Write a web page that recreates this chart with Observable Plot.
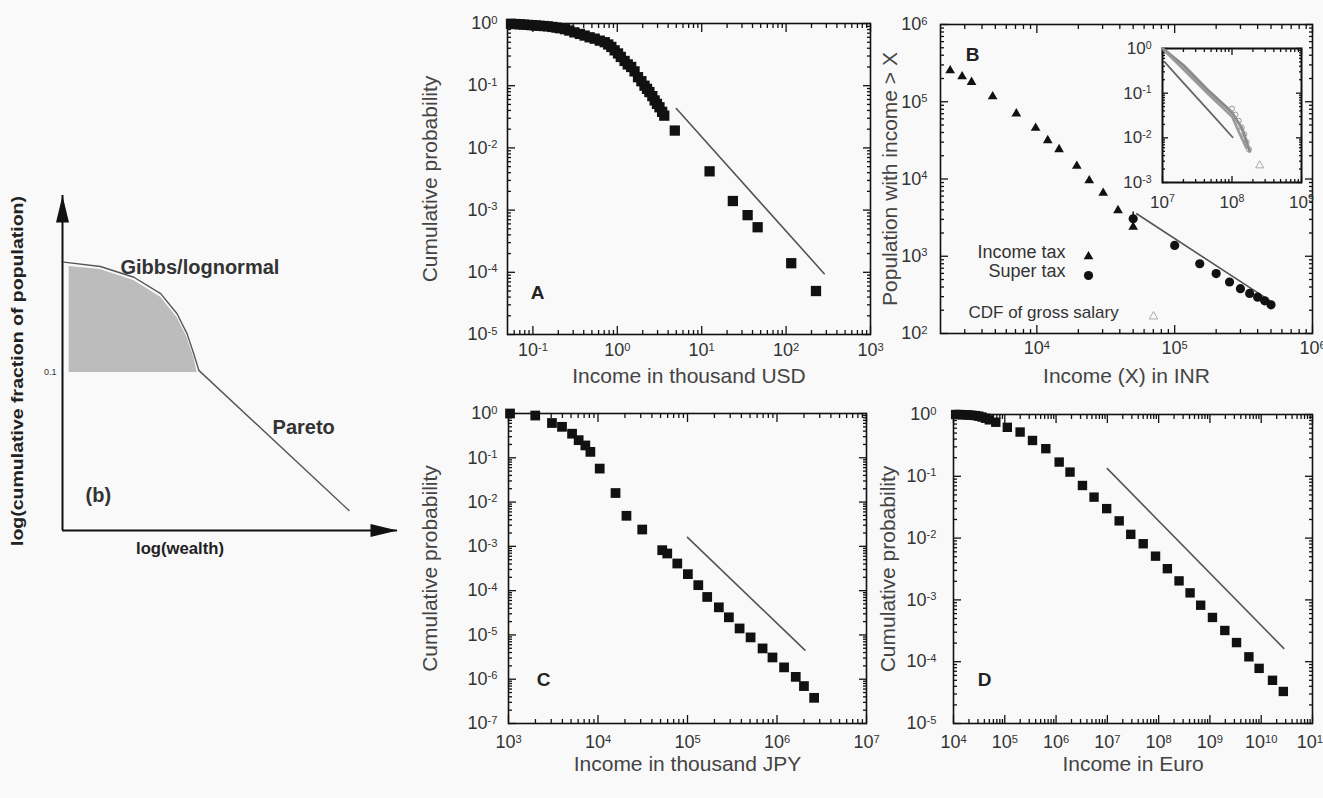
<!DOCTYPE html>
<html><head><meta charset="utf-8">
<script src="https://cdn.jsdelivr.net/npm/d3@7"></script>
<script src="https://cdn.jsdelivr.net/npm/@observablehq/plot@0.6"></script>
<style>
body{margin:0;background:#f9f9f9;}
#page{position:relative;width:1323px;height:798px;overflow:hidden;background:#f9f9f9;}
#page svg{position:absolute;overflow:visible;max-width:none;}
</style></head><body><div id="page"></div>
<script>
// ---------- Panel A : USA (thousand USD) ----------
const usdX = [0.055,0.062,0.07,0.078,0.087,0.097,0.108,0.12,0.135,0.15,0.17,0.19,0.21,0.24,0.27,
  0.31,0.36,0.41,0.47,0.54,0.62,0.71,0.78,0.85,0.93,1.02,1.1,1.22,1.33,1.46,1.6,1.76,1.93,2.1,2.25,2.4,2.6,2.77,2.95,3.16,3.4,3.6,
  4.8,12.4,23.4,35,46,115,226];
const usdY = [0.99,0.98,0.97,0.96,0.95,0.94,0.93,0.92,0.91,0.90,0.88,0.86,0.84,0.81,0.77,
  0.72,0.68,0.64,0.60,0.57,0.53,0.50,0.46,0.42,0.37,0.33,0.29,0.25,0.22,0.20,0.17,0.137,0.118,0.10,0.089,0.079,0.068,0.058,0.051,0.045,0.038,0.033,
  0.019,0.0042,0.0014,0.00083,0.00053,0.00014,0.00005];
const usdFitX = [5, 283];
const usdFitY = [0.043, 0.000095];

// ---------- Panel B : India (INR) ----------
const incomeTaxX = [2350,2870,3360,4780,7100,9800,12000,14500,19500,24000,30300,38800,50000];
const incomeTaxY = [254000,212000,179000,117000,70000,45700,31600,24200,14700,9550,6580,3930,2390];
const superTaxX = [50000,100000,152000,200000,250000,300000,350000,400000,450000,500000];
const superTaxY = [3060,1380,800,596,464,380,330,295,265,235];
const superErrX = [50000];
const superErrLo = [2550];
const superErrHi = [3750];
const inrFitX = [53000, 503000];
const inrFitY = [3550, 258];
// inset: CDF of gross salary
const salaryLowX = [1.07e7,2e7,4e7,6e7,1.02e8];
const salaryLowY = [0.5,0.17,0.052,0.026,0.0103];
const salaryMidX = [1.0e7,2e7,4.4e7,1e8,1.4e8,1.8e8];
const salaryMidY = [1.0,0.42,0.12,0.037,0.016,0.005];
const salaryUpX = [1.1e7,2e7,4.4e7,1e8,1.3e8,1.6e8];
const salaryUpY = [0.85,0.34,0.10,0.03,0.012,0.006];
const salaryPtsX = [1.0e8,1.12e8,1.25e8,1.38e8,1.5e8,1.62e8,1.75e8];
const salaryPtsY = [0.045,0.033,0.024,0.017,0.012,0.008,0.0055];
const salaryLoneX = [2.5e8];
const salaryLoneY = [0.0024];

// ---------- Panel C : Japan (thousand JPY) ----------
const jpyX = [1040,1990,3060,3960,5130,6080,7220,8220,10450,15700,20800,31200,52200,59400,76900,101000,132000,166000,224000,290000,382000,507000,690000,890000,1.2e6,1.62e6,2.0e6,2.6e6];
const jpyY = [1.0,0.9,0.61,0.50,0.35,0.25,0.19,0.136,0.057,0.016,0.0049,0.0024,0.00082,0.00069,0.00041,0.000236,0.000133,7.2e-5,4.2e-5,2.5e-5,1.4e-5,8.8e-6,4.96e-6,3.1e-6,1.85e-6,1.13e-6,7e-7,3.8e-7];
const jpyFitX = [1.0e5, 2.05e6];
const jpyFitY = [1.6e-3, 4.55e-6];

// ---------- Panel D : Euro ----------
const eurX = [11000,13000,15000,17500,20000,23000,27000,31000,36000,42000,50000,66800,112000,199000,347000,631000,1.15e6,1.87e6,3.27e6,5.5e6,9.7e6,1.7e7,2.86e7,5.0e7,8.7e7,1.48e8,2.5e8,4.1e8,6.6e8,1.12e9,1.95e9,3.3e9,5.75e9,9.1e9,1.66e10,2.7e10];
const eurY = [1.0,1.0,0.99,0.99,0.98,0.97,0.96,0.94,0.91,0.87,0.82,0.75,0.62,0.52,0.38,0.28,0.17,0.117,0.071,0.046,0.030,0.019,0.0115,0.0081,0.0051,0.0032,0.00203,0.0013,0.00082,0.00052,0.00032,0.000204,0.00012,7.8e-5,5.0e-5,3.3e-5];
const eurFitX = [1.0e7, 2.75e10];
const eurFitY = [0.133, 1.64e-4];

// ---------- tick values ----------
const prob5Ticks = [1e-5,1e-4,1e-3,1e-2,1e-1,1];
const prob7Ticks = [1e-7,1e-6,1e-5,1e-4,1e-3,1e-2,1e-1,1];
const usdTicks = [0.1,1,10,100,1000];
const inrTicks = [1e4,1e5,1e6];
const popTicks = [1e2,1e3,1e4,1e5,1e6];
const jpyTicks = [1e3,1e4,1e5,1e6,1e7];
const eurTicks = [1e4,1e5,1e6,1e7,1e8,1e9,1e10,1e11];
const insetXTicks = [1e7,1e8,1e9];
const insetYTicks = [1e-3,1e-2,1e-1,1];

// ---------- schematic (b) ----------
const schemDomain = [0, 10];
const curveU = [0.04,1.13,2.13,2.93,3.42,3.72,3.92,4.07];
const curveV = [8.01,7.88,7.56,7.07,6.47,5.87,5.27,4.78];
const paretoU = [4.07,8.55];
const paretoV = [4.78,0.60];
const shadeU = [0.2,1.13,2.13,2.93,3.42,3.72,3.92,4.02];
const shadeTop = [7.88,7.79,7.46,6.96,6.36,5.76,5.16,4.72];
const shadeLevel = 4.72;
const schemText = ["Gibbs/lognormal","Pareto","(b)"];
const schemTextU = [1.73,6.27,0.69];
const schemTextV = [7.85,3.07,1.04];

// ================= drawing =================
const page = document.getElementById("page");
const FONT = "'Liberation Sans', Arial, Helvetica, sans-serif";
const T = (xs, ys) => xs.map((x, i) => ({x, y: ys[i]}));
const fmtPow = v => "10^" + Math.round(Math.log10(v));
function minors(dom) {
  const lo = Math.min(...dom), hi = Math.max(...dom), out = [];
  for (let e = Math.floor(Math.log10(lo)); e <= Math.ceil(Math.log10(hi)); e++)
    for (let m = 2; m <= 9; m++) { const v = m * Math.pow(10, e); if (v > lo * 1.0001 && v < hi * 0.9999) out.push(v); }
  return out;
}
function supify(svg) {
  svg.querySelectorAll("text").forEach(t => {
    const m = /^10\^(-?\d+)$/.exec(t.textContent);
    if (!m) return;
    while (t.firstChild) t.removeChild(t.firstChild);
    t.appendChild(document.createTextNode("10"));
    const ts = document.createElementNS("http://www.w3.org/2000/svg", "tspan");
    ts.setAttribute("dy", "-0.5em");
    ts.setAttribute("font-size", "0.62em");
    ts.textContent = m[1];
    t.appendChild(ts);
  });
}
function place(svg, left, top) {
  svg.style.left = left + "px"; svg.style.top = top + "px";
  page.appendChild(svg);
}
function logFrameMarks(xDom, yDom, xMaj, yMaj, o) {
  const tickStroke = {stroke: "#111", fill: "none", strokeWidth: o.tw || 1.3};
  const mx = minors(xDom), my = minors(yDom);
  return [
    Plot.axisX({anchor: "bottom", ticks: xMaj, tickSize: 0, tickPadding: o.xPad, tickFormat: fmtPow, label: null, fill: "#333", fontSize: o.fs}),
    Plot.axisY({anchor: "left", ticks: yMaj, tickSize: 0, tickPadding: o.yPad, tickFormat: fmtPow, label: null, fill: "#333", fontSize: o.fs}),
    ...["bottom", "top"].flatMap(a => [
      Plot.axisX({anchor: a, ticks: xMaj, tickSize: -(o.major || 8), label: null, ...tickStroke}),
      Plot.axisX({anchor: a, ticks: mx, tickSize: -(o.minor || 4), label: null, ...tickStroke})
    ]),
    ...["left", "right"].flatMap(a => [
      Plot.axisY({anchor: a, ticks: yMaj, tickSize: -(o.major || 8), label: null, ...tickStroke}),
      Plot.axisY({anchor: a, ticks: my, tickSize: -(o.minor || 4), label: null, ...tickStroke})
    ]),
    Plot.frame({stroke: "#111", strokeWidth: o.fw || 1.6})
  ];
}
function titles(xt, yt, xdy, ydx) {
  return [
    Plot.text([xt], {frameAnchor: "bottom", dy: xdy, textAnchor: "middle", fontSize: 21, fill: "#444"}),
    Plot.text([yt], {frameAnchor: "left", dx: ydx, rotate: -90, textAnchor: "middle", fontSize: 21, fill: "#444"})
  ];
}
function letter(l, anchor, dx, dy) {
  return Plot.text([l], {frameAnchor: anchor, dx, dy, textAnchor: "middle", fontSize: 19, fontWeight: "bold", fill: "#222"});
}
function logPlot(cfg) {
  const svg = Plot.plot({
    width: cfg.width, height: cfg.height,
    marginLeft: cfg.m[0], marginRight: cfg.m[1], marginTop: cfg.m[2], marginBottom: cfg.m[3],
    x: {type: "log", domain: cfg.xDom, label: null},
    y: {type: "log", domain: cfg.yDom, label: null},
    style: {background: "transparent", fontFamily: FONT, fontSize: "18px", color: "#333", overflow: "visible"},
    marks: [...logFrameMarks(cfg.xDom, cfg.yDom, cfg.xMaj, cfg.yMaj, cfg.o), ...cfg.marks]
  });
  supify(svg);
  place(svg, cfg.left, cfg.top);
  return svg;
}
const lineStyle = {x: "x", y: "y", stroke: "#555", strokeWidth: 1.6};

// ----- schematic -----
{
  const shade = shadeU.map((u, i) => ({u, top: shadeTop[i]}));
  const curve = T(curveU, curveV), pareto = T(paretoU, paretoV);
  const arrowHead = {draw(ctx) { ctx.moveTo(0, 0); ctx.lineTo(6.5, 27); ctx.lineTo(-6.5, 27); ctx.closePath(); }};
  const labels = schemText.map((t, i) => ({t, u: schemTextU[i], v: schemTextV[i]}));
  const svg = Plot.plot({
    width: 420, height: 420, marginLeft: 62, marginRight: 23, marginTop: 25, marginBottom: 60,
    x: {domain: schemDomain, axis: null}, y: {domain: schemDomain, axis: null},
    style: {background: "transparent", fontFamily: FONT, color: "#333", overflow: "visible"},
    marks: [
      Plot.areaY(shade, {x: "u", y1: () => shadeLevel, y2: "top", fill: "#bcbcbc"}),
      Plot.line(curve, {x: "x", y: "y", stroke: "#555", strokeWidth: 1.4}),
      Plot.line(pareto, {x: "x", y: "y", stroke: "#555", strokeWidth: 1.4}),
      Plot.ruleX([schemDomain[0]], {y1: schemDomain[0], y2: schemDomain[1], stroke: "#111", strokeWidth: 2}),
      Plot.ruleY([schemDomain[0]], {x1: schemDomain[0], x2: schemDomain[1], stroke: "#111", strokeWidth: 2}),
      Plot.dot([{x: schemDomain[0], y: schemDomain[1]}], {x: "x", y: "y", symbol: arrowHead, fill: "#111", stroke: "none"}),
      Plot.dot([{x: schemDomain[1], y: schemDomain[0]}], {x: "x", y: "y", symbol: arrowHead, rotate: 90, fill: "#111", stroke: "none"}),
      Plot.text(labels, {x: "u", y: "v", text: "t", textAnchor: "start", fontSize: 20, fontWeight: "bold", fill: "#333"}),
      Plot.text(["0.1"], {x: () => schemDomain[0], y: () => shadeLevel, dx: -6, textAnchor: "end", fontSize: 9, fill: "#333"}),
      Plot.text(["log(cumulative fraction of population)"], {frameAnchor: "left", dx: -45, dy: 8, rotate: -90, textAnchor: "middle", fontSize: 17, fontWeight: "bold", fill: "#222"}),
      Plot.text(["log(wealth)"], {frameAnchor: "bottom", dx: -50, dy: 23, textAnchor: "middle", fontSize: 17, fontWeight: "bold", fill: "#222"})
    ]
  });
  svg.querySelectorAll("text").forEach(t => {
    if (t.textContent === "log(cumulative fraction of population)") { t.setAttribute("textLength", 350); t.setAttribute("lengthAdjust", "spacingAndGlyphs"); }
    if (t.textContent === "log(wealth)") { t.setAttribute("textLength", 88); t.setAttribute("lengthAdjust", "spacingAndGlyphs"); }
  });
  place(svg, 0, 170);
}

// ----- Panel A -----
logPlot({
  left: 400, top: 0, width: 480, height: 400, m: [107, 10, 23, 66],
  xDom: [0.05, 1000], yDom: [1e-5, 1], xMaj: usdTicks, yMaj: prob5Ticks,
  o: {xPad: 9, yPad: 10, fs: 18},
  marks: [
    Plot.line(T(usdFitX, usdFitY), lineStyle),
    Plot.dot(T(usdX, usdY), {x: "x", y: "y", symbol: "square", r: 5.8, fill: "#111"}),
    letter("A", "bottom-left", 30, -36),
    ...titles("Income in thousand USD", "Cumulative probability", 48, -77)
  ]
});

// ----- Panel B -----
logPlot({
  left: 860, top: 0, width: 463, height: 400, m: [80, 11, 24, 67],
  xDom: [2000, 1e6], yDom: [100, 1e6], xMaj: inrTicks, yMaj: popTicks,
  o: {xPad: 8, yPad: 13, fs: 18},
  marks: [
    Plot.ruleX(superErrX.map((x, i) => ({x, lo: superErrLo[i], hi: superErrHi[i]})), {x: "x", y1: "lo", y2: "hi", stroke: "#111", strokeWidth: 1.5}),
    Plot.line(T(inrFitX, inrFitY), lineStyle),
    Plot.dot(T(incomeTaxX, incomeTaxY), {x: "x", y: "y", symbol: "triangle", r: 3.6, fill: "#111"}),
    Plot.dot(T(superTaxX, superTaxY), {x: "x", y: "y", symbol: "circle", r: 4.6, fill: "#111"}),
    letter("B", "top-left", 32, 23),
    Plot.text(["Income tax"], {frameAnchor: "bottom-left", dx: 125, dy: -76, textAnchor: "end", fontSize: 18, fill: "#333"}),
    Plot.dot([0], {frameAnchor: "bottom-left", dx: 148, dy: -77, symbol: "triangle", r: 3.6, fill: "#111"}),
    Plot.text(["Super tax"], {frameAnchor: "bottom-left", dx: 125, dy: -57, textAnchor: "end", fontSize: 18, fill: "#333"}),
    Plot.dot([0], {frameAnchor: "bottom-left", dx: 148, dy: -58, symbol: "circle", r: 4.6, fill: "#111"}),
    Plot.text(["CDF of gross salary"], {frameAnchor: "bottom-left", dx: 28, dy: -16, textAnchor: "start", fontSize: 17, fill: "#333"}),
    Plot.dot([0], {frameAnchor: "bottom-left", dx: 213, dy: -17, symbol: "triangle", r: 3.2, fill: "none", stroke: "#aaa", strokeWidth: 1}),
    ...titles("Income (X) in INR", "Population with income > X", 49, -50)
  ]
});

// ----- Inset of B -----
logPlot({
  left: 1110, top: 40, width: 213, height: 185, m: [52, 22, 8, 43],
  xDom: [1e7, 1e9], yDom: [1e-3, 1], xMaj: insetXTicks, yMaj: insetYTicks,
  o: {xPad: 13, yPad: 11, fs: 17, major: 6, minor: 3, fw: 2},
  marks: [
    Plot.line(T(salaryLowX, salaryLowY), {x: "x", y: "y", stroke: "#666", strokeWidth: 1.8}),
    Plot.line(T(salaryMidX, salaryMidY), {x: "x", y: "y", stroke: "#8a8a8a", strokeWidth: 3}),
    Plot.line(T(salaryUpX, salaryUpY), {x: "x", y: "y", stroke: "#9a9a9a", strokeWidth: 2.6}),
    Plot.dot(T(salaryPtsX, salaryPtsY), {x: "x", y: "y", symbol: "circle", r: 2.6, fill: "none", stroke: "#999", strokeWidth: 1}),
    Plot.dot(T(salaryLoneX, salaryLoneY), {x: "x", y: "y", symbol: "triangle", r: 3, fill: "none", stroke: "#aaa", strokeWidth: 1})
  ]
});

// ----- Panel C -----
logPlot({
  left: 400, top: 400, width: 480, height: 398, m: [108, 14, 13, 75],
  xDom: [1e3, 1e7], yDom: [1e-7, 1], xMaj: jpyTicks, yMaj: prob7Ticks,
  o: {xPad: 12, yPad: 11, fs: 18},
  marks: [
    Plot.line(T(jpyFitX, jpyFitY), lineStyle),
    Plot.dot(T(jpyX, jpyY), {x: "x", y: "y", symbol: "square", r: 5.5, fill: "#111"}),
    letter("C", "bottom-left", 35, -38),
    ...titles("Income in thousand JPY", "Cumulative probability", 47, -78)
  ]
});

// ----- Panel D -----
logPlot({
  left: 860, top: 400, width: 463, height: 398, m: [93, 11, 14, 75],
  xDom: [1e4, 1e11], yDom: [1e-5, 1], xMaj: eurTicks, yMaj: prob5Ticks,
  o: {xPad: 12, yPad: 17, fs: 18},
  marks: [
    Plot.line(T(eurFitX, eurFitY), lineStyle),
    Plot.dot(T(eurX, eurY), {x: "x", y: "y", symbol: "square", r: 5.3, fill: "#111"}),
    letter("D", "bottom-left", 31, -38),
    ...titles("Income in Euro", "Cumulative probability", 47, -65)
  ]
});
</script></body></html>
